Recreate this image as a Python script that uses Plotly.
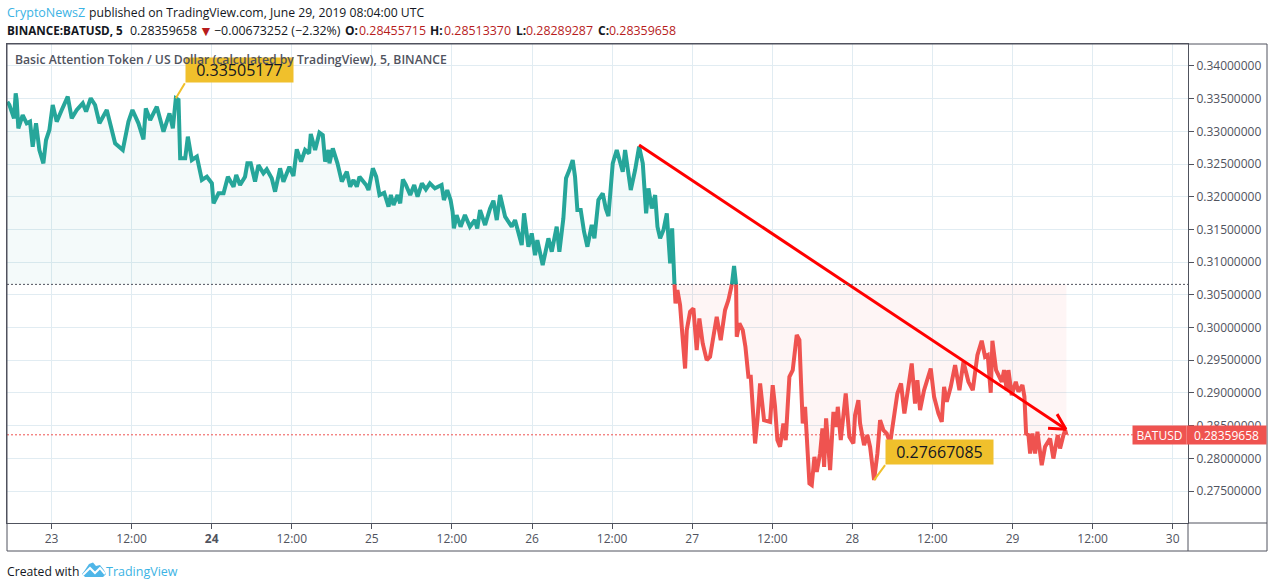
import numpy as np
import pandas as pd
import plotly.graph_objects as go

# BATUSD: hours since 23 June 00:00, price
hours = [
    -6.62, -6.32, -5.97, -5.62, -5.37, -5.22, -4.97, -4.32, -3.72, -3.22, -2.82, -2.32, -1.82, -1.22, -0.82, -0.32,
    0.18, 0.78, 1.53, 2.43, 3.03, 3.78, 4.68, 5.18, 5.88, 6.53, 7.18, 8.28, 8.78, 9.53, 10.68, 11.53,
    12.13, 13.03, 13.78, 14.13, 14.78, 15.78, 16.78, 17.68, 18.18, 18.63, 19.03, 19.28, 20.03, 20.43,
    21.03, 21.78, 22.53, 23.28, 24.03, 24.28, 25.03, 25.78, 26.43, 27.28, 27.68, 28.25,
    29.0, 29.35, 29.85, 30.5, 31.0, 31.75, 32.25, 33.0, 33.5, 34.25, 34.75, 35.65, 36.25, 36.75, 37.4, 38.0,
    38.6, 38.85, 39.5, 40.15, 40.65, 41.0, 41.5, 41.65, 42.15, 42.85, 43.5, 44.25, 44.75, 45.25, 45.75, 46.15,
    47.15, 47.5, 48.15, 48.65, 49.15, 49.85, 50.5, 50.85, 51.25, 51.85, 52.25, 52.65, 53.1, 53.75, 54.35, 54.85,
    55.5, 56.1, 56.7, 57.45, 58.45, 58.8, 59.3, 59.8, 60.1, 60.3, 60.7, 61.3, 61.95, 62.7, 63.45, 63.8, 64.22,
    64.97, 65.72, 66.22, 66.72, 67.22, 67.97, 68.96, 69.46, 70.46, 70.81, 71.46, 71.96, 72.46, 72.8, 73.6,
    74.46, 74.96, 75.7, 76.1, 76.7, 77.1, 77.6, 78.1, 78.45, 78.8, 79.3, 79.8, 80.3, 80.95, 81.35, 81.95,
    82.6, 83.05, 83.45, 84.1, 84.7, 85.1, 85.6, 85.95, 86.8, 87.45, 88.05, 88.6, 89.1, 89.45, 89.95, 90.45,
    90.8, 91.2, 91.7, 92.2, 92.7, 93.0, 93.2, 93.35, 93.5, 93.79, 94.19, 94.44, 94.94, 95.19, 95.69, 96.19,
    96.68, 97.08, 97.58, 98.18, 98.68, 99.18, 99.68, 100.28, 100.93, 101.43, 101.95, 102.28, 102.58, 102.68,
    103.08, 103.58, 103.98, 104.43, 104.78, 105.18, 105.43, 105.78, 106.18, 106.77, 107.67, 108.07, 108.42,
    108.77, 109.17, 109.67, 110.02, 110.57, 111.07, 111.67, 112.07, 112.32, 112.57, 112.92, 113.27, 113.57,
    113.92, 114.32, 114.67, 115.17, 115.52, 115.77, 116.07, 116.42, 116.67, 117.17, 117.57, 117.82, 118.27,
    119.01, 119.56, 120.16, 120.41, 120.91, 121.16, 121.76, 122.26, 122.66, 123.26, 123.76, 124.16, 124.66,
    125.16, 125.66, 126.16, 126.75, 127.3, 127.8, 128.4, 128.9, 129.4, 129.75, 130.15, 130.75, 131.75, 132.25,
    132.9, 133.4, 133.75, 134.15, 134.75, 135.4, 136.05, 136.65, 137.4, 138.05, 138.74, 139.39, 139.89, 140.29,
    140.74, 140.99, 141.54, 142.39, 142.74, 143.14, 143.39, 143.89, 144.49, 144.89, 145.49, 145.79, 146.04,
    146.39, 146.64, 146.99, 147.39, 147.74, 148.38, 148.88, 149.63, 150.13, 150.78, 151.13, 151.63, 151.9, 152.07,
]
prices = [
    0.33454, 0.33404, 0.33302, 0.33200, 0.33582, 0.33480, 0.33046, 0.33250, 0.33123, 0.33149, 0.32766, 0.33123, 0.32715, 0.32511, 0.32868, 0.33021,
    0.33404, 0.33149, 0.33327, 0.33531, 0.33200, 0.33327, 0.33429, 0.33302, 0.33506, 0.33404, 0.33123, 0.33327, 0.33123, 0.32817, 0.32715, 0.33149,
    0.33327, 0.33123, 0.32878, 0.33352, 0.33174, 0.33378, 0.32995, 0.33276, 0.33046, 0.33505, 0.33480, 0.32587, 0.32587, 0.32919,
    0.32562, 0.32613, 0.32256, 0.32307, 0.32205, 0.31899, 0.32052, 0.32052, 0.32307, 0.32154, 0.32332, 0.32180,
    0.32307, 0.32511, 0.32511, 0.32231, 0.32485, 0.32358, 0.32419, 0.32282, 0.32078, 0.32435, 0.32231, 0.32460, 0.32317, 0.32725, 0.32537, 0.32715,
    0.32664, 0.32960, 0.32715, 0.32980, 0.32944, 0.32537, 0.32715, 0.32511, 0.32740, 0.32511, 0.32231, 0.32383, 0.32154, 0.32256, 0.32154, 0.32307,
    0.32180, 0.32103, 0.32435, 0.32307, 0.32027, 0.32062, 0.31848, 0.32027, 0.31873, 0.32027, 0.31899, 0.32266, 0.32180, 0.32027, 0.32180, 0.32001,
    0.32205, 0.32113, 0.32205, 0.32129, 0.32180, 0.31950, 0.32103, 0.31950, 0.31772, 0.31516, 0.31720, 0.31542, 0.31720, 0.31542, 0.31644, 0.31516, 0.31797,
    0.31568, 0.31822, 0.31940, 0.31644, 0.32026, 0.31695, 0.31542, 0.31644, 0.31262, 0.31746, 0.31236, 0.31440, 0.31108, 0.31338, 0.30955,
    0.31364, 0.31160, 0.31542, 0.31160, 0.31670, 0.32282, 0.32409, 0.32562, 0.32307, 0.31797, 0.31797, 0.31465, 0.31236, 0.31568, 0.31364, 0.31950,
    0.32052, 0.31822, 0.31705, 0.32511, 0.32715, 0.32588, 0.32383, 0.32715, 0.32103, 0.32409, 0.32766, 0.32511, 0.31746, 0.32128, 0.31822, 0.32026,
    0.31542, 0.31364, 0.31491, 0.31746, 0.30981, 0.31517, 0.30777, 0.30660, 0.30369, 0.30573, 0.30343, 0.30012, 0.29374, 0.29961, 0.30241, 0.30292,
    0.29655, 0.30140, 0.29757, 0.29502, 0.29553, 0.29859, 0.30165, 0.29808, 0.30267, 0.30420, 0.30660, 0.30940, 0.30660, 0.29859,
    0.30063, 0.29961, 0.29706, 0.29247, 0.29247, 0.28686, 0.28227, 0.28584, 0.29145, 0.28584, 0.28558, 0.29120, 0.28788,
    0.28278, 0.28176, 0.28533, 0.28278, 0.29247, 0.29349, 0.29885, 0.29808, 0.29145, 0.28533, 0.28788, 0.28074, 0.27615,
    0.27590, 0.28023, 0.27794, 0.28074, 0.28457, 0.27870, 0.28610, 0.28176, 0.27819, 0.28711, 0.28482, 0.28788, 0.28278,
    0.28992, 0.28329, 0.28227, 0.28661, 0.28890, 0.28533, 0.28201, 0.28354, 0.28176, 0.27667, 0.28074, 0.28584, 0.28431,
    0.28380, 0.28227, 0.28584, 0.28992, 0.29145, 0.28686, 0.29094, 0.29451, 0.28839, 0.29196, 0.28737, 0.29043, 0.29374, 0.28941,
    0.28686, 0.28558, 0.29094, 0.28864, 0.29094, 0.29426, 0.29043, 0.29476, 0.29170, 0.29043, 0.29578, 0.29798, 0.29553, 0.29578,
    0.29002, 0.29798, 0.29349, 0.29170, 0.29349, 0.29043, 0.29349, 0.28966, 0.29170, 0.29017, 0.29120, 0.28941, 0.28380,
    0.28354, 0.28074, 0.28380, 0.28074, 0.28406, 0.27895, 0.28176, 0.28303, 0.27997, 0.28354, 0.28150, 0.28354, 0.28431, 0.28360,
]

base_price = 0.30660
last_price = 0.28359658
high_label = ["0.33505177", 18.63, 0.33505177]
low_label = ["0.27667085", 123.26, 0.27667085]

# hand drawn trend arrow on the chart
trend_hours = [88.04, 152.0]
trend_prices = [0.32791, 0.28446]
head_hours = [149.33, 152.0, 150.68]
head_prices = [0.28461, 0.28446, 0.28676]

y_ticks = [0.275 + 0.005 * i for i in range(14)]
x_tick_hours = [12 * i for i in range(15)]
x_tick_text = ["23", "12:00", "<b>24</b>", "12:00", "25", "12:00", "26", "12:00",
               "27", "12:00", "28", "12:00", "29", "12:00", "30"]

TEAL = "#26a69a"
RED = "#ef5350"
AXIS = "#50535e"
GRID = "#e1ecf2"
BLUE = "#3bb3e4"
DARK_RED = "#b71c1c"
YELLOW = "#f0c02c"
LOGO = "#4fb6e8"
FONT = "Open Sans"

day0 = pd.Timestamp("2019-06-23")


def to_time(h):
    return day0 + pd.to_timedelta(np.asarray(h, dtype=float), unit="h")


# page pixels -> paper coordinates, for the things around the plot
L, R, T, B = 7, 1188, 44, 523


def px(x):
    return (x - L) / (R - L)


def py(y):
    return (B - y) / (B - T)


def poly(points):
    return "M" + " L".join("%.5f,%.5f" % (px(a), py(b)) for a, b in points)


times = to_time(hours)
p = np.array(prices)

fig = go.Figure()
fig.add_trace(go.Scatter(x=times, y=np.full(len(p), base_price), mode="lines", line=dict(width=0), hoverinfo="skip"))
fig.add_trace(go.Scatter(x=times, y=np.maximum(p, base_price), mode="lines", line=dict(width=0),
                         fill="tonexty", fillcolor="rgba(38,166,154,0.05)"))
fig.add_trace(go.Scatter(x=times, y=np.full(len(p), base_price), mode="lines", line=dict(width=0), hoverinfo="skip"))
fig.add_trace(go.Scatter(x=times, y=np.minimum(p, base_price), mode="lines", line=dict(width=0),
                         fill="tonexty", fillcolor="rgba(239,83,80,0.06)"))
fig.add_trace(go.Scatter(x=times, y=np.where(p >= base_price, p, np.nan), mode="lines",
                         line=dict(color=TEAL, width=4)))
fig.add_trace(go.Scatter(x=times, y=np.where(p <= base_price, p, np.nan), mode="lines",
                         line=dict(color=RED, width=4)))
fig.add_trace(go.Scatter(x=to_time(trend_hours), y=trend_prices, mode="lines", line=dict(color="#ff0000", width=3)))
fig.add_trace(go.Scatter(x=to_time(head_hours), y=head_prices, mode="lines", line=dict(color="#ff0000", width=3)))

shapes = [
    dict(type="line", xref="paper", x0=0, x1=1, yref="y", y0=base_price, y1=base_price,
         line=dict(color=AXIS, width=1, dash="2px,2px")),
    dict(type="line", xref="paper", x0=0, x1=1, yref="y", y0=last_price, y1=last_price,
         line=dict(color=RED, width=1, dash="2px,2px")),
    # frame around the plot and the axis panels
    dict(type="rect", xref="paper", yref="paper", x0=px(7), x1=px(1267), y0=py(44), y1=py(551),
         line=dict(color=AXIS, width=1)),
    dict(type="line", xref="paper", yref="paper", x0=px(1188), x1=px(1267), y0=py(523), y1=py(523),
         line=dict(color=AXIS, width=1)),
    dict(type="line", xref="paper", yref="paper", x0=px(1188), x1=px(1188), y0=py(523), y1=py(551),
         line=dict(color=AXIS, width=1)),
    # TradingView logo in the footer
    dict(type="path", xref="paper", yref="paper", line=dict(width=0), fillcolor=LOGO,
         path=poly([(82, 574), (85, 570), (89, 564), (93, 562.5), (96, 566), (100, 565), (104, 570),
                    (106, 574), (103, 577), (85, 577)]) + " Z"),
    dict(type="path", xref="paper", yref="paper", line=dict(width=2, color="#ffffff"),
         path=poly([(83, 575), (90, 568), (95, 573), (100, 568), (105, 574)])),
]


def text(x, y, s, size=12, color="#131722", anchor="left", **font_extra):
    return dict(xref="paper", yref="paper", x=px(x), y=py(y), text=s, showarrow=False, xanchor=anchor,
                yanchor="middle", font=dict(family=FONT, size=size, color=color, **font_extra), borderpad=0)


def callout(label, ax, ay):
    return dict(x=day0 + pd.Timedelta(hours=label[1]), y=label[2], xref="x", yref="y", text=label[0],
                showarrow=True, arrowhead=0, arrowwidth=2, arrowcolor=YELLOW, ax=ax, ay=ay,
                xanchor="left", yanchor="bottom", width=107, height=24, bgcolor=YELLOW, borderpad=0,
                font=dict(family=FONT, size=16, color="#131722"))


def price_tag(x0, x1, s):
    return dict(xref="paper", yref="y", x=px(x1), y=last_price, text=s, showarrow=False, xanchor="right",
                yanchor="middle", width=x1 - x0, height=18, bgcolor=RED, borderpad=0,
                font=dict(family=FONT, size=12, color="#ffffff"))


annotations = [
    callout(high_label, 9, -15),
    callout(low_label, 11, -15),
    text(14, 60, "Basic Attention Token / US Dollar (calculated by TradingView), 5, BINANCE", 12.2, AXIS, weight=600),
    text(6, 12, "CryptoNewsZ", 12.5, BLUE),
    text(88, 12, "published on TradingView.com, June 29, 2019 08:04:00 UTC", 12.2),
    text(6, 30, "<b>BINANCE:BATUSD, 5</b>", 11.7),
    text(129, 30, "0.28359658", 12.4),
    text(198, 30, "▼", 14, DARK_RED),
    text(213, 30, "−0.00673252 (−2.32%)", 12.4),
    text(344, 30, "<b>O:</b>", 12),
    text(358, 30, "0.28455715", 12.4, DARK_RED),
    text(429, 30, "<b>H:</b>", 12),
    text(443, 30, "0.28513370", 12.4, DARK_RED),
    text(515, 30, "<b>L:</b>", 12),
    text(525, 30, "0.28289287", 12.4, DARK_RED),
    text(597, 30, "<b>C:</b>", 12),
    text(608, 30, "0.28359658", 12.4, DARK_RED),
    text(6, 571, "Created with", 12.2),
    text(105, 571, "TradingView", 12.5, BLUE),
    price_tag(1134, 1187, "BATUSD"),
    price_tag(1188, 1267, "0.28359658"),
]

fig.update_layout(
    width=1274, height=588, autosize=False,
    margin=dict(l=L, r=1274 - R, t=T, b=588 - B),
    paper_bgcolor="white", plot_bgcolor="white",
    showlegend=False, hovermode=False,
    font=dict(family=FONT, size=12, color=AXIS),
    shapes=shapes, annotations=annotations,
)
fig.update_xaxes(
    range=[to_time([-6.67])[0], to_time([170.3])[0]],
    tickmode="array", tickvals=to_time(x_tick_hours), ticktext=x_tick_text,
    showgrid=True, gridcolor=GRID, gridwidth=1, zeroline=False,
    showline=True, linecolor=AXIS, linewidth=1, mirror=True,
    ticks="outside", ticklen=5, tickcolor=AXIS, tickfont=dict(family=FONT, size=12, color=AXIS),
)
fig.update_yaxes(
    range=[0.27011, 0.34336], side="right",
    tickmode="array", tickvals=y_ticks, tickformat=".8f",
    showgrid=True, gridcolor=GRID, gridwidth=1, zeroline=False,
    showline=True, linecolor=AXIS, linewidth=1, mirror=True,
    ticks="outside", ticklen=5, tickcolor=AXIS, tickfont=dict(family=FONT, size=12, color=AXIS),
)

fig.write_html("out.html", config=dict(displayModeBar=False), post_script="document.body.style.margin='0';")
